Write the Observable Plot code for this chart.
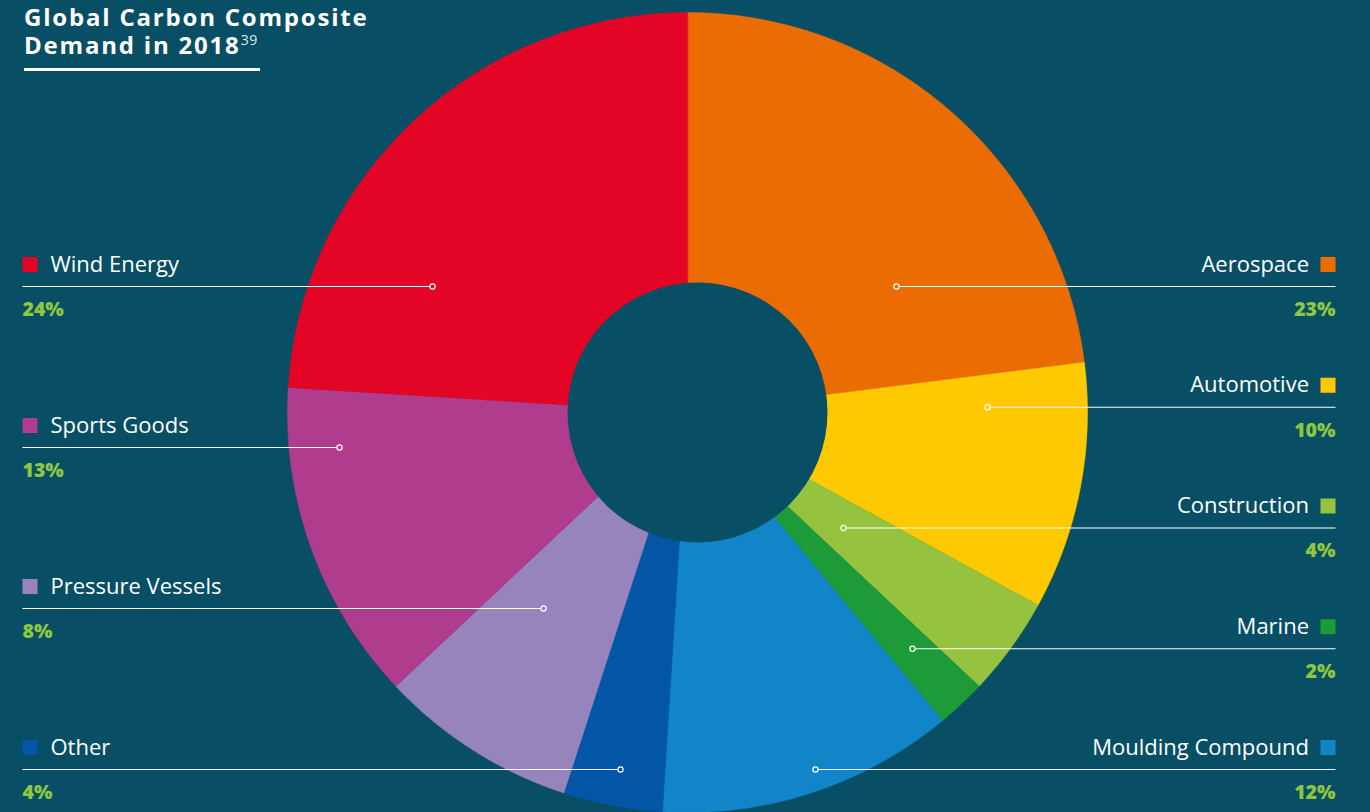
<!DOCTYPE html>
<html>
<head>
<meta charset="utf-8">
<script src="https://cdn.jsdelivr.net/npm/d3@7"></script>
<script src="https://cdn.jsdelivr.net/npm/@observablehq/plot@0.6"></script>
<style>
  html, body { margin: 0; padding: 0; background: #084e64; }
  #wrap { position: relative; width: 1370px; height: 812px; overflow: hidden; }
  .title { position: absolute; left: 24px; color: #fff; font-family: "Open Sans", Lato, sans-serif;
           font-weight: 700; font-size: 24px; line-height: 26px; letter-spacing: 1.8px; white-space: nowrap; }
  #t1 { top: 3.5px; }
  #t2 { top: 32px; }
  .title sup { font-size: 14px; font-weight: 400; color: #dfe8ec; vertical-align: 9px; line-height: 0; letter-spacing: 0.5px; }
  #rule { position: absolute; left: 24px; top: 68px; width: 236px; height: 3px; background: #fff; }
  svg text { font-family: "Open Sans", Lato, sans-serif; }
  svg text.name { letter-spacing: 1.6px; }
  svg text.pct { letter-spacing: 0.3px; }
</style>
</head>
<body>
<div id="wrap">
  <div id="chart"></div>
  <div class="title" id="t1">Global Carbon Composite</div>
  <div class="title" id="t2">Demand in 2018<sup>39</sup></div>
  <div id="rule"></div>
</div>
<script>
// ---- data ----
const categories = ["Aerospace", "Automotive", "Construction", "Marine", "Moulding Compound",
                    "Other", "Pressure Vessels", "Sports Goods", "Wind Energy"];
const shares = [23, 10, 4, 2, 12, 4, 8, 13, 24];
const shareLabels = ["23%", "10%", "4%", "2%", "12%", "4%", "8%", "13%", "24%"];
const sliceColors = ["#ec6c04", "#fec900", "#95c23f", "#1c9b38", "#1185c8",
                     "#0356a6", "#9784bd", "#af3c8c", "#e20526"];
const rightLabels = ["Aerospace", "Automotive", "Construction", "Marine", "Moulding Compound"];
const leftLabels = ["Wind Energy", "Sports Goods", "Pressure Vessels", "Other"];

// ---- layout (not data) ----
const BG = "#084e64";
const GREEN = "#8dc63f";
const R_OUT = 400, R_IN = 130, HOLE_DX = 10;
const X_DOMAIN = [-687, 683], Y_DOMAIN = [-400, 412];
const ROW_TOP = 126, ROW_BOTTOM = -357;
// where each leader line ends inside its slice (x, in chart units)
const anchorX = {"Aerospace": 209, "Automotive": 300, "Construction": 156, "Marine": 225,
  "Moulding Compound": 128, "Other": -67, "Pressure Vessels": -144, "Sports Goods": -348, "Wind Energy": -255};

const table = categories.map((name, i) => ({name, share: shares[i], label: shareLabels[i]}));
const pie = d3.pie().sort(null).value(d => d.share)(table);

const wedgePts = [];
for (const a of pie) {
  const name = a.data.name;
  wedgePts.push({name, x: 0, y: 0});
  const n = Math.max(4, Math.ceil((a.endAngle - a.startAngle) / 0.005));
  for (let k = 0; k <= n; k++) {
    const t = a.startAngle + (a.endAngle - a.startAngle) * k / n;
    wedgePts.push({name, x: R_OUT * Math.sin(t), y: R_OUT * Math.cos(t)});
  }
}

const rowR = d3.scalePoint().domain(rightLabels).range([ROW_TOP, ROW_BOTTOM]);
const rowL = d3.scalePoint().domain(leftLabels).range([ROW_TOP, ROW_BOTTOM]);
const legend = table.map(d => {
  const right = rightLabels.includes(d.name);
  return {...d, right, y: right ? rowR(d.name) : rowL(d.name), ax: anchorX[d.name]};
});
const L = legend.filter(d => !d.right), Rt = legend.filter(d => d.right);
const xMin = X_DOMAIN[0], xMax = X_DOMAIN[1];

const chart = Plot.plot({
  width: 1370, height: 812, margin: 0,
  x: {domain: X_DOMAIN, axis: null},
  y: {domain: Y_DOMAIN, axis: null},
  color: {domain: categories, range: sliceColors},
  style: {background: BG, overflow: "visible"},
  marks: [
    Plot.line(wedgePts, {x: "x", y: "y", z: "name", fill: "name", stroke: "name", strokeWidth: 0.5, curve: "linear-closed"}),
    Plot.dot([0], {x: () => HOLE_DX, y: () => 0, r: R_IN, fill: BG}),
    // leader lines
    Plot.link(L, {x1: () => xMin + 22, x2: "ax", y1: "y", y2: "y", stroke: "#fff", strokeWidth: 1.2}),
    Plot.link(Rt, {x1: "ax", x2: () => xMax - 35, y1: "y", y2: "y", stroke: "#fff", strokeWidth: 1.2}),
    Plot.dot(legend, {x: "ax", y: "y", r: 2.6, fill: "name", stroke: "#fff", strokeWidth: 1.2}),
    // swatches
    Plot.dot(L, {y: "y", frameAnchor: "left", dx: 29.5, dy: -22, symbol: "square", r: 8.5, fill: "name"}),
    Plot.dot(Rt, {y: "y", frameAnchor: "right", dx: -42.5, dy: -22, symbol: "square", r: 8.5, fill: "name"}),
    // names
    Plot.text(L, {y: "y", text: "name", frameAnchor: "left", textAnchor: "start", dx: 50, dy: -22,
      fill: "#fff", fontSize: 22, lineAnchor: "middle", className: "name"}),
    Plot.text(Rt, {y: "y", text: "name", frameAnchor: "right", textAnchor: "end", dx: -61.5, dy: -22,
      fill: "#fff", fontSize: 22, lineAnchor: "middle", className: "name"}),
    // percentages
    Plot.text(L, {y: "y", text: "label", frameAnchor: "left", textAnchor: "start", dx: 22, dy: 23,
      fill: GREEN, fontSize: 19.5, fontWeight: 800, lineAnchor: "middle", className: "pct"}),
    Plot.text(Rt, {y: "y", text: "label", frameAnchor: "right", textAnchor: "end", dx: -35, dy: 23,
      fill: GREEN, fontSize: 19.5, fontWeight: 800, lineAnchor: "middle", className: "pct"})
  ]
});
document.getElementById("chart").appendChild(chart);
</script>
</body>
</html>
